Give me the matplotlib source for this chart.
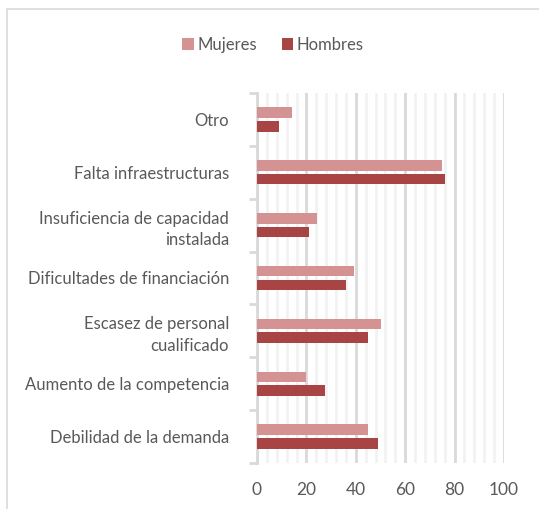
import numpy as np
import matplotlib.pyplot as plt
from matplotlib.ticker import MultipleLocator, FixedLocator
from matplotlib.patches import Rectangle

# categories, bottom to top
categorias = ['Debilidad de la demanda', 'Aumento de la competencia',
              'Escasez de personal\ncualificado', 'Dificultades de financiación',
              'Insuficiencia de capacidad\ninstalada', 'Falta infraestructuras', 'Otro']
mujeres = [44.8, 19.9, 50.1, 39.4, 24.2, 75.1, 14.3]
hombres = [49.1, 27.5, 44.8, 36.1, 21.0, 76.2, 9.1]
x_ticks = [0, 20, 40, 60, 80, 100]

plt.rcParams['font.family'] = ['Lato', 'DejaVu Sans']

fig = plt.figure(figsize=(5.39, 5.09), dpi=100)
ax = fig.add_axes([257 / 539, 1 - 463 / 509, 247 / 539, 370 / 509])

# outer frame of the chart
fig.patches.append(Rectangle((7 / 539, -0.01), 1.0, 1 - 9 / 509 + 0.01,
                             transform=fig.transFigure, fill=False,
                             edgecolor='#D9D9D9', linewidth=1.2))

y = np.arange(len(categorias))
h = 0.2
ax.barh(y + h / 2 + 0.03, mujeres, height=h, color='#D59292', label='Mujeres', zorder=3)
ax.barh(y - h / 2 - 0.03, hombres, height=h, color='#A94444', label='Hombres', zorder=3)

ax.set_xlim(0, 100)
ax.set_ylim(-0.5, len(categorias) - 0.5)
ax.xaxis.set_major_locator(FixedLocator(x_ticks))
ax.xaxis.set_minor_locator(MultipleLocator(4))
ax.grid(axis='x', which='major', color='#D9D9D9', linewidth=2, zorder=0)
ax.grid(axis='x', which='minor', color='#F2F2F2', linewidth=2, zorder=0)
ax.set_axisbelow(True)

for s in ['top', 'right', 'bottom']:
    ax.spines[s].set_visible(False)
ax.spines['left'].set_color('#D9D9D9')
ax.spines['left'].set_linewidth(2)

ax.set_yticks(y)
ax.set_yticklabels(categorias, fontsize=12, color='#595959', linespacing=1.45)
ax.tick_params(axis='y', which='major', length=0, pad=20)
ax.set_yticks(np.arange(-0.5, len(categorias)), minor=True)
ax.tick_params(axis='y', which='minor', length=6, width=2, color='#D9D9D9')
for lbl in ax.get_yticklabels():
    lbl.set_horizontalalignment('right')

ax.tick_params(axis='x', which='both', length=0, pad=14, labelsize=12.5, labelcolor='#595959')

handles, labels = ax.get_legend_handles_labels()
fig.legend(handles, labels, loc='center', bbox_to_anchor=(273 / 539, 1 - 45 / 509), ncol=2,
           frameon=False, fontsize=12, labelcolor='#595959', handlelength=0.7,
           handleheight=0.7, handletextpad=0.2, columnspacing=1.5)

fig.savefig('out.png', dpi=100)
